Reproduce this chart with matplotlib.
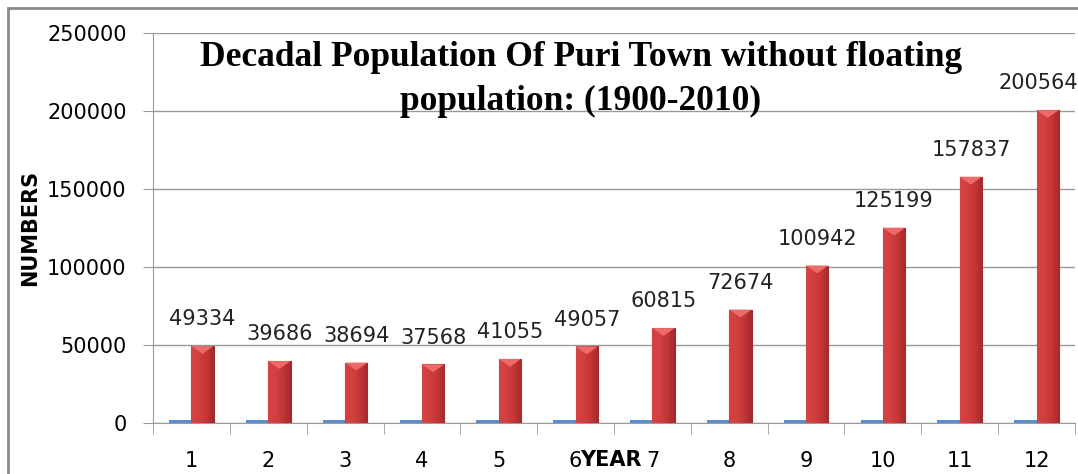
import numpy as np
import matplotlib.pyplot as plt
from matplotlib.patches import Rectangle
from matplotlib.colors import LinearSegmentedColormap

categories = ["1", "2", "3", "4", "5", "6", "7", "8", "9", "10", "11", "12"]
years = [1900, 1910, 1920, 1930, 1940, 1950, 1960, 1970, 1980, 1990, 2000, 2010]
population = [49334, 39686, 38694, 37568, 41055, 49057, 60815, 72674, 100942, 125199, 157837, 200564]

fig = plt.figure(figsize=(10.78, 4.74), dpi=100)
ax = fig.add_axes([153 / 1078, 51 / 474, 922 / 1078, 390 / 474])

x = np.arange(len(categories))
w = 0.29
ax.bar(x - w / 2, years, width=w, color="#5B8FCB", zorder=3)
bars = ax.bar(x + w / 2, population, width=w, color="#C93A3C",
              edgecolor="#9A2A2C", linewidth=0.8, zorder=3)

# cylinder-ish shading on the red bars
grad = np.linspace(0.0, 1.0, 64).reshape(1, -1)
cm = LinearSegmentedColormap.from_list("cyl", ["#D44446", "#D2403F", "#C43537", "#A3292C"])
tip = 5000
for b in bars:
    x0, x1, h = b.get_x(), b.get_x() + b.get_width(), b.get_height()
    im = ax.imshow(grad, cmap=cm, aspect="auto", zorder=4, extent=[x0, x1, 0, h])
    im.set_clip_path(b)
    ax.fill([x0, x1, (x0 + x1) / 2], [h, h, h - tip], color="#EC6A68", zorder=5, lw=0)

for i, (xi, v) in enumerate(zip(x, population)):
    dx = -7 if i == len(population) - 1 else 0  # keep last label inside the frame
    ax.annotate(str(v), (xi + w / 2, v), xytext=(dx, 12), textcoords="offset points",
                ha="center", va="bottom", fontsize=15, family="DejaVu Sans", color="#222222")

ax.set_xlim(-0.5, len(categories) - 0.5)
ax.set_ylim(0, 250000)
ax.set_yticks(np.arange(0, 250001, 50000))
ax.yaxis.grid(True, color="#9a9a9a", linewidth=1, zorder=0)
ax.set_axisbelow(True)

ax.set_xticks(x)
ax.set_xticklabels(categories, fontsize=15, family="DejaVu Sans")
ax.set_xticks(np.arange(-0.5, len(categories)), minor=True)
ax.tick_params(axis="x", which="major", length=0, pad=20)
ax.tick_params(axis="x", which="minor", length=8, color="#9a9a9a", direction="out")
ax.tick_params(axis="y", length=7, color="#9a9a9a", labelsize=15, pad=12)
for lbl in ax.get_yticklabels():
    lbl.set_family("DejaVu Sans")

for s in ["top", "right"]:
    ax.spines[s].set_visible(False)
for s in ["left", "bottom"]:
    ax.spines[s].set_color("#9a9a9a")

fig.text(581 / 1078, 1 - 41 / 474, "Decadal Population Of Puri Town without floating\npopulation: (1900-2010)",
         ha="center", va="top", fontsize=25.5, fontweight="bold",
         family="Liberation Serif", linespacing=1.45)

fig.text(611 / 1078, 1 - 460 / 474, "YEAR", ha="center", va="center",
         fontsize=15, fontweight="bold", family="DejaVu Sans")
fig.text(30 / 1078, 1 - 228 / 474, "NUMBERS", rotation=90, ha="center", va="center",
         fontsize=15, fontweight="bold", family="DejaVu Sans")

fig.patches.append(Rectangle((8 / 1078, -0.1), 1.2, 1 - 8 / 474 + 0.1, transform=fig.transFigure,
                             fill=False, edgecolor="#8a8a8a", linewidth=2))

fig.savefig("out.png", dpi=100)
